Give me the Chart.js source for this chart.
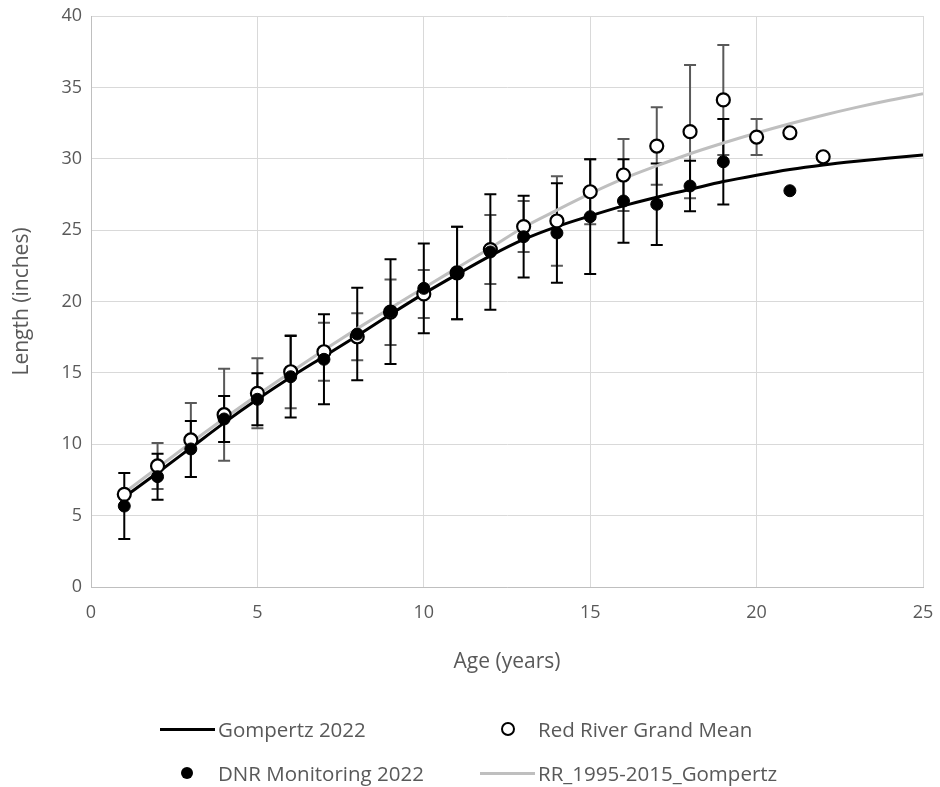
<!DOCTYPE html>
<html><head><meta charset="utf-8">
<script src="https://cdn.jsdelivr.net/npm/chart.js@4/dist/chart.umd.min.js"></script>
<style>
html,body{margin:0;padding:0;background:#fff;}
#wrap{position:relative;width:940px;height:787px;overflow:hidden;}
canvas{position:absolute;left:0;top:0;}
.lt{position:absolute;font-family:'Open Sans',sans-serif;font-size:20.5px;color:#595959;white-space:nowrap;line-height:24px;height:24px;}
.sw{position:absolute;box-sizing:border-box;}
</style></head><body>
<div id="wrap"><canvas id="c" width="940" height="787"></canvas>
<div id="legend"></div></div>
<script>
// ---- data ----
const ages = [1,2,3,4,5,6,7,8,9,10,11,12,13,14,15,16,17,18,19,20,21,22];
const rrMean = [6.49,8.48,10.30,12.07,13.57,15.08,16.48,17.53,19.25,20.53,22.0,23.64,25.25,25.64,27.69,28.86,30.89,31.90,34.12,31.52,31.82,30.14];
const rrErr  = [null,1.61,2.59,3.22,2.45,2.56,2.03,1.64,2.29,1.68,3.24,2.42,1.79,3.13,2.27,2.52,2.71,4.67,3.85,1.26,null,null];
const dnrMean = [5.67,7.73,9.67,11.77,13.15,14.73,15.95,17.72,19.29,20.92,22.0,23.47,24.54,24.8,25.94,27.04,26.81,28.09,29.79,null,27.76,null];
const dnrErr  = [2.31,1.61,1.96,1.61,1.82,2.85,3.15,3.24,3.67,3.15,3.24,4.04,2.86,3.48,4.02,2.92,2.85,1.77,2.99,null,null,null];
const curveAges = [1,2,3,4,5,6,7,8,9,10,11,12,13,14,15,16,17,18,19,20,21,22,23,24,25];
const gompertz2022 = [6.3,8.0,9.75,11.5,13.15,14.7,16.15,17.6,19.1,20.55,21.9,23.2,24.35,25.25,26.0,26.7,27.3,27.85,28.4,28.85,29.25,29.57,29.83,30.06,30.26];
const rrGompertz = [6.6,8.35,10.1,11.8,13.45,15.05,16.6,18.1,19.55,20.95,22.35,23.75,25.2,26.4,27.55,28.6,29.5,30.35,31.1,31.8,32.45,33.05,33.6,34.1,34.55];
const xTicks = [0,5,10,15,20,25];
const yTicks = [0,5,10,15,20,25,30,35,40];
const seriesNames = ['Gompertz 2022','Red River Grand Mean','DNR Monitoring 2022','RR_1995-2015_Gompertz'];

const pts = (xs, ys) => xs.map((x,i) => ({x, y: ys[i]}));
const FONT = "'Open Sans', sans-serif";
const TXT = '#595959';

const errorBars = {
  id: 'errorBars',
  beforeDatasetsDraw(chart) {
    const {ctx, scales: {x, y}} = chart;
    const draw = (means, errs, color) => {
      ctx.save();
      ctx.strokeStyle = color; ctx.lineWidth = 2;
      ages.forEach((a, i) => {
        const m = means[i], e = errs[i];
        if (m == null || e == null) return;
        const px = x.getPixelForValue(a);
        const t = y.getPixelForValue(m + e), b = y.getPixelForValue(m - e);
        ctx.beginPath();
        ctx.moveTo(px, t); ctx.lineTo(px, b);
        ctx.moveTo(px - 6, t); ctx.lineTo(px + 6, t);
        ctx.moveTo(px - 6, b); ctx.lineTo(px + 6, b);
        ctx.stroke();
      });
      ctx.restore();
    };
    draw(rrMean, rrErr, '#595959');
    draw(dnrMean, dnrErr, '#000000');
  }
};

new Chart(document.getElementById('c'), {
  type: 'line',
  data: {
    datasets: [
      {label: seriesNames[2], data: pts(ages, dnrMean), showLine: false, pointRadius: 6, pointBackgroundColor: '#000', pointBorderColor: '#000', pointBorderWidth: 1, order: 0},
      {label: seriesNames[1], data: pts(ages, rrMean), showLine: false, pointRadius: 6.5, pointBackgroundColor: '#fff', pointBorderColor: '#000', pointBorderWidth: 2.2, order: 1},
      {label: seriesNames[0], data: pts(curveAges, gompertz2022), borderColor: '#000', borderWidth: 3, pointRadius: 0, cubicInterpolationMode: 'monotone', order: 2},
      {label: seriesNames[3], data: pts(curveAges, rrGompertz), borderColor: '#bfbfbf', borderWidth: 3, pointRadius: 0, cubicInterpolationMode: 'monotone', order: 3}
    ]
  },
  options: {
    responsive: false, animation: false, devicePixelRatio: 1,
    layout: {padding: {top: 16, right: 17, left: 0, bottom: 110}},
    plugins: {legend: {display: false}, tooltip: {enabled: false}},
    scales: {
      x: {
        type: 'linear', min: 0, max: 25,
        afterBuildTicks: s => { s.ticks = xTicks.map(v => ({value: v})); },
        afterFit: s => { s.height = 90; s.paddingLeft = 0; s.paddingRight = 0; },
        grid: {color: '#d9d9d9', drawTicks: false},
        border: {color: '#bfbfbf'},
        ticks: {color: TXT, font: {family: FONT, size: 18}, padding: 15, maxRotation: 0},
        title: {display: true, text: 'Age (years)', color: TXT, font: {family: FONT, size: 21}, padding: {top: 0, bottom: 2}}
      },
      y: {
        type: 'linear', min: 0, max: 40,
        afterBuildTicks: s => { s.ticks = yTicks.map(v => ({value: v})); },
        afterFit: s => { s.width = 91; s.paddingTop = 0; s.paddingBottom = 0; },
        grid: {color: '#d9d9d9', drawTicks: false},
        border: {color: '#bfbfbf'},
        ticks: {color: TXT, font: {family: FONT, size: 18}, padding: 9},
        title: {display: true, text: 'Length (inches)', color: TXT, font: {family: FONT, size: 21}, padding: {top: 9, bottom: 0}}
      }
    }
  },
  plugins: [errorBars]
});

// ---- legend (HTML) ----
const leg = document.getElementById('legend');
const add = (html) => leg.insertAdjacentHTML('beforeend', html);
const r1 = 729, r2 = 773;
add(`<div class="sw" style="left:160px;top:${r1-1.5}px;width:55px;height:3px;background:#000"></div>`);
add(`<div class="lt" style="left:218px;top:${r1-12}px">${seriesNames[0]}</div>`);
add(`<div class="sw" style="left:501px;top:${r1-7}px;width:14px;height:14px;border:2.2px solid #000;border-radius:50%;background:#fff"></div>`);
add(`<div class="lt" style="left:538px;top:${r1-12}px">${seriesNames[1]}</div>`);
add(`<div class="sw" style="left:181px;top:${r2-6}px;width:12px;height:12px;border-radius:50%;background:#000"></div>`);
add(`<div class="lt" style="left:218px;top:${r2-12}px">${seriesNames[2]}</div>`);
add(`<div class="sw" style="left:480px;top:${r2-1.5}px;width:55px;height:3px;background:#bfbfbf"></div>`);
add(`<div class="lt" style="left:538px;top:${r2-12}px">${seriesNames[3]}</div>`);
</script>
</body></html>
